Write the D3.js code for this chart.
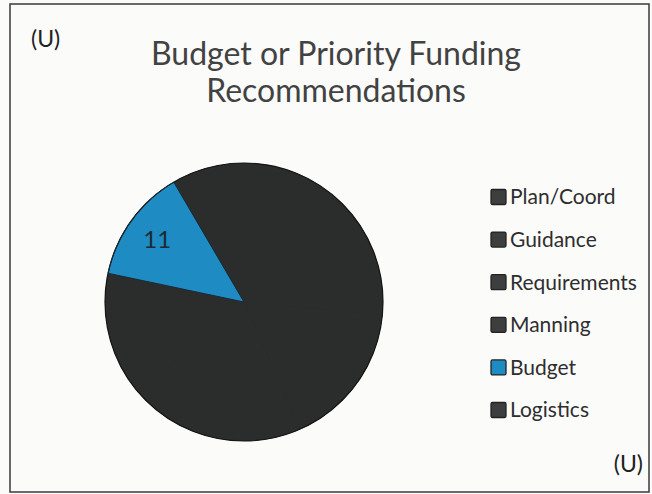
<!DOCTYPE html>
<html>
<head>
<meta charset="utf-8">
<script src="https://cdn.jsdelivr.net/npm/d3@7"></script>
<style>
  body { margin: 0; background: #fff; }
  text { font-family: Lato, "Open Sans", sans-serif; }
</style>
</head>
<body>
<svg id="chart" width="652" height="494"></svg>
<script>
// categories, in the order Excel draws them (clockwise from 12 o'clock)
const categories = ['Plan/Coord', 'Guidance', 'Requirements', 'Manning', 'Budget', 'Logistics']
// counts (only Budget is readable, the rest are estimated from slice angles)
const values = [22, 14, 17, 12, 11, 7]
const sliceColors = ['#2b2d2d', '#2b2d2d', '#2b2d2d', '#2b2d2d', '#1f8bc3', '#2b2d2d']
const swatchColors = ['#3d3f3f', '#3d3f3f', '#3d3f3f', '#3d3f3f', '#1f8bc3', '#3d3f3f']
const labelled = ['Budget']
const titleLines = ['Budget or Priority Funding', 'Recommendations']

const data = categories.map((name, i) => ({ name, amount: values[i] }))

const svg = d3.select('#chart')

// page background and frame
svg.append('rect')
    .attr('width', 652).attr('height', 494)
    .attr('fill', '#fbfbfa')
svg.append('rect')
    .attr('x', 10).attr('y', 4)
    .attr('width', 639).attr('height', 488)
    .attr('fill', 'none')
    .attr('stroke', '#3a3a3a')
    .attr('stroke-width', 1.5)

// classification marks
svg.append('text')
    .attr('x', 31).attr('y', 47)
    .attr('font-size', 23).attr('fill', '#222')
    .text('(U)')
svg.append('text')
    .attr('x', 643).attr('y', 472)
    .attr('text-anchor', 'end')
    .attr('font-size', 23).attr('fill', '#222')
    .text('(U)')

// title
svg.append('g')
    .selectAll('text')
    .data(titleLines)
    .join('text')
    .attr('x', 336)
    .attr('y', (d, i) => 65 + i * 37)
    .attr('text-anchor', 'middle')
    .attr('font-size', 32)
    .attr('fill', '#424242')
    .text(d => d)

// pie
const cx = 244, cy = 302, r = 139

const arcData = d3.pie()
    .sort(null)
    .value(d => d.amount)
    (data)

const arcGenerator = d3.arc()
    .innerRadius(0)
    .outerRadius(r)

const labelArc = d3.arc()
    .innerRadius(r * 0.77)
    .outerRadius(r * 0.77)

const colorOf = d3.scaleOrdinal().domain(categories).range(sliceColors)
const swatchOf = d3.scaleOrdinal().domain(categories).range(swatchColors)

const pieGroup = svg.append('g')
    .attr('transform', `translate(${cx},${cy})`)

// dark base disc so the seams between same-coloured slices disappear
pieGroup.append('circle')
    .attr('r', r)
    .attr('fill', '#2b2d2d')

pieGroup.selectAll('path.slice')
    .data(arcData)
    .join('path')
    .classed('slice', true)
    .attr('d', arcGenerator)
    .attr('fill', d => colorOf(d.data.name))

// outer rim
pieGroup.append('circle')
    .attr('r', r)
    .attr('fill', 'none')
    .attr('stroke', '#151515')
    .attr('stroke-width', 1.2)

// edges of the blue slice
pieGroup.selectAll('path.edge')
    .data(arcData.filter(d => labelled.includes(d.data.name)))
    .join('path')
    .classed('edge', true)
    .attr('d', arcGenerator)
    .attr('fill', 'none')
    .attr('stroke', '#1a2a36')
    .attr('stroke-width', 1)

pieGroup.selectAll('text')
    .data(arcData.filter(d => labelled.includes(d.data.name)))
    .join('text')
    .attr('transform', d => `translate(${labelArc.centroid(d)})`)
    .attr('text-anchor', 'middle')
    .attr('dy', '0.35em')
    .attr('font-family', '"Liberation Serif", "DejaVu Serif", serif')
    .attr('font-size', 24)
    .attr('fill', '#1c2a33')
    .text(d => d.data.amount)

// legend
const legendY = d3.scalePoint()
    .domain(categories)
    .range([197, 410])

const legend = svg.append('g')
    .selectAll('g')
    .data(categories)
    .join('g')
    .attr('transform', d => `translate(491,${legendY(d)})`)

legend.append('rect')
    .attr('x', 0).attr('y', -7.5)
    .attr('width', 15).attr('height', 15)
    .attr('rx', 1.5)
    .attr('fill', d => swatchOf(d))
    .attr('stroke', '#222')
    .attr('stroke-width', 1.3)

legend.append('text')
    .attr('x', 19)
    .attr('dy', '0.35em')
    .attr('font-size', 21)
    .attr('fill', '#2e2e2e')
    .text(d => d)
</script>
</body>
</html>
